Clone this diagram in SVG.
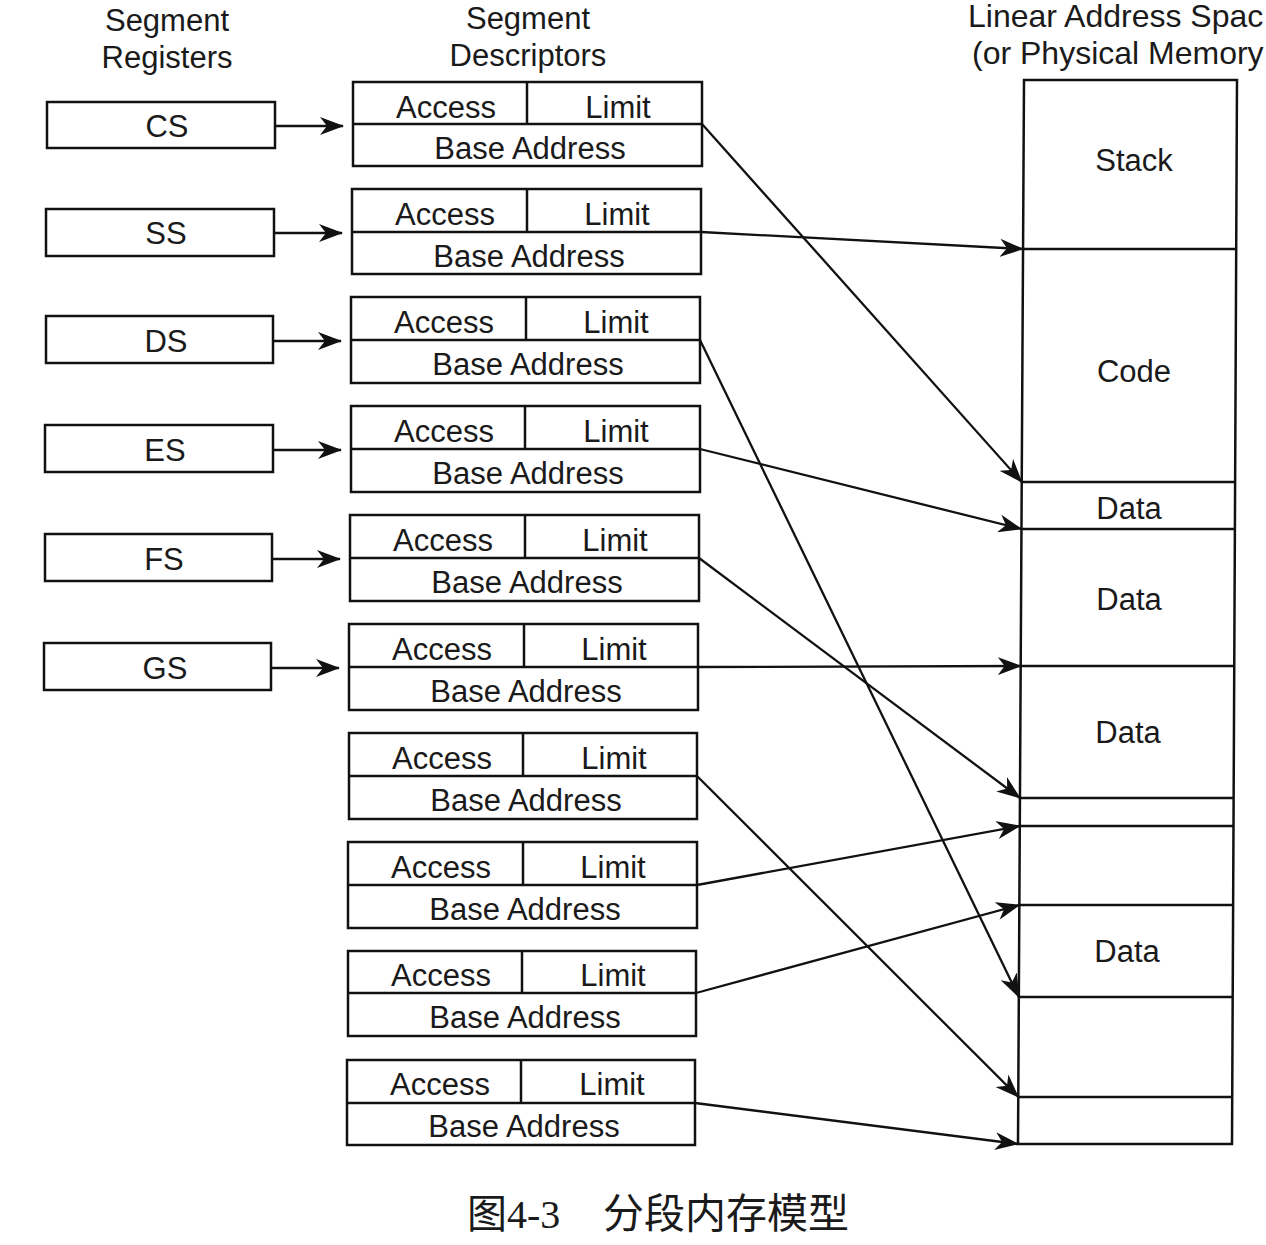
<svg xmlns="http://www.w3.org/2000/svg" width="1266" height="1245" viewBox="0 0 1266 1245">
<style>
.box{fill:none;stroke:#111;stroke-width:2.5}
.ln{fill:none;stroke:#111;stroke-width:2.5}
.t{font-family:"Liberation Sans",Arial,sans-serif;font-size:31px;fill:#1a1a1a;text-anchor:middle}
.h{font-family:"Liberation Sans",Arial,sans-serif;font-size:31px;fill:#1a1a1a;text-anchor:middle}
.hs{font-family:"Liberation Sans",Arial,sans-serif;font-size:32px;fill:#1a1a1a}
.cap{font-family:"Liberation Serif","Noto Sans CJK SC",serif;font-size:40px;fill:#1a1a1a}
.arr{fill:none;stroke:#111;stroke-width:2.3;marker-end:url(#ah)}
</style>
<defs>
<marker id="ah" viewBox="0 0 24 18" refX="23" refY="9" markerWidth="24" markerHeight="18" markerUnits="userSpaceOnUse" orient="auto">
<path d="M0,0 L24,9 L0,18 L7,9 Z" fill="#111"/>
</marker>
</defs>
<rect width="1266" height="1245" fill="#fff"/>

<g id="headers">
<text class="h" x="167" y="31">Segment</text>
<text class="h" x="167" y="68">Registers</text>
<text class="h" x="528" y="29">Segment</text>
<text class="h" x="528" y="66">Descriptors</text>
<text class="hs" x="968" y="27">Linear Address Spac</text>
<text class="hs" x="972" y="64">(or Physical Memory</text>
</g>

<g id="reg-CS"><rect class="box" x="47" y="102" width="228" height="46"/><text class="t" x="167" y="137">CS</text></g>
<g id="reg-SS"><rect class="box" x="46" y="209" width="228" height="47"/><text class="t" x="166" y="244">SS</text></g>
<g id="reg-DS"><rect class="box" x="46" y="316" width="227" height="47"/><text class="t" x="166" y="352">DS</text></g>
<g id="reg-ES"><rect class="box" x="45" y="425" width="228" height="47"/><text class="t" x="165" y="461">ES</text></g>
<g id="reg-FS"><rect class="box" x="45" y="534" width="227" height="47"/><text class="t" x="164" y="570">FS</text></g>
<g id="reg-GS"><rect class="box" x="44" y="643" width="227" height="47"/><text class="t" x="165" y="679">GS</text></g>

<g id="desc1"><rect class="box" x="353" y="82" width="349" height="84"/><path class="ln" d="M353,124H702M527,82V124"/><text class="t" x="446" y="118">Access</text><text class="t" x="618" y="118">Limit</text><text class="t" x="530" y="159">Base Address</text></g>
<g id="desc2"><rect class="box" x="352" y="189" width="349" height="85"/><path class="ln" d="M352,232H701M527,189V232"/><text class="t" x="445" y="225">Access</text><text class="t" x="617" y="225">Limit</text><text class="t" x="529" y="267">Base Address</text></g>
<g id="desc3"><rect class="box" x="351" y="297" width="349" height="86"/><path class="ln" d="M351,340H700M526,297V340"/><text class="t" x="444" y="333">Access</text><text class="t" x="616" y="333">Limit</text><text class="t" x="528" y="375">Base Address</text></g>
<g id="desc4"><rect class="box" x="351" y="406" width="349" height="86"/><path class="ln" d="M351,449H700M525,406V449"/><text class="t" x="444" y="442">Access</text><text class="t" x="616" y="442">Limit</text><text class="t" x="528" y="484">Base Address</text></g>
<g id="desc5"><rect class="box" x="350" y="515" width="349" height="86"/><path class="ln" d="M350,558H699M525,515V558"/><text class="t" x="443" y="551">Access</text><text class="t" x="615" y="551">Limit</text><text class="t" x="527" y="593">Base Address</text></g>
<g id="desc6"><rect class="box" x="349" y="624" width="349" height="86"/><path class="ln" d="M349,667H698M524,624V667"/><text class="t" x="442" y="660">Access</text><text class="t" x="614" y="660">Limit</text><text class="t" x="526" y="702">Base Address</text></g>
<g id="desc7"><rect class="box" x="349" y="733" width="348" height="86"/><path class="ln" d="M349,776H697M523,733V776"/><text class="t" x="442" y="769">Access</text><text class="t" x="614" y="769">Limit</text><text class="t" x="526" y="811">Base Address</text></g>
<g id="desc8"><rect class="box" x="348" y="842" width="349" height="86"/><path class="ln" d="M348,885H697M523,842V885"/><text class="t" x="441" y="878">Access</text><text class="t" x="613" y="878">Limit</text><text class="t" x="525" y="920">Base Address</text></g>
<g id="desc9"><rect class="box" x="348" y="951" width="348" height="85"/><path class="ln" d="M348,993H696M522,951V993"/><text class="t" x="441" y="986">Access</text><text class="t" x="613" y="986">Limit</text><text class="t" x="525" y="1028">Base Address</text></g>
<g id="desc10"><rect class="box" x="347" y="1060" width="348" height="85"/><path class="ln" d="M347,1103H695M521,1060V1103"/><text class="t" x="440" y="1095">Access</text><text class="t" x="612" y="1095">Limit</text><text class="t" x="524" y="1137">Base Address</text></g>

<g id="memory">
<path class="box" d="M1024,80 L1237,80 L1232,1144 L1018,1144 Z"/>
<path class="ln" d="M1023,249H1236.2 M1021.7,482H1235.1 M1021.5,529H1234.9 M1020.7,666H1234.2 M1020,798H1233.6 M1019.8,826H1233.5 M1019.4,905H1233.1 M1018.8,997H1232.7 M1018.3,1097H1232.2"/>
<text class="t" x="1134" y="171">Stack</text>
<text class="t" x="1134" y="382">Code</text>
<text class="t" x="1129" y="519">Data</text>
<text class="t" x="1129" y="610">Data</text>
<text class="t" x="1128" y="743">Data</text>
<text class="t" x="1127" y="962">Data</text>
</g>

<g id="connectors">
<path class="arr" d="M275,126H343"/>
<path class="arr" d="M274,233H342"/>
<path class="arr" d="M273,341H341"/>
<path class="arr" d="M273,450H341"/>
<path class="arr" d="M272,559H340"/>
<path class="arr" d="M271,668H339"/>
<path class="arr" d="M702,124L1021.7,482"/>
<path class="arr" d="M701,232L1023,249"/>
<path class="arr" d="M700,340L1018.8,997"/>
<path class="arr" d="M700,449L1021.5,529"/>
<path class="arr" d="M699,558L1020,798"/>
<path class="arr" d="M698,667L1020.7,666"/>
<path class="arr" d="M697,776L1018.3,1097"/>
<path class="arr" d="M697,885L1019.8,826"/>
<path class="arr" d="M696,993L1019.4,905"/>
<path class="arr" d="M695,1103L1018,1144"/>
</g>

<g id="caption">
<text class="cap" x="467" y="1228">图4-3</text>
<text class="cap" x="603" y="1228" style="font-size:41px">分段内存模型</text>
</g>
</svg>
